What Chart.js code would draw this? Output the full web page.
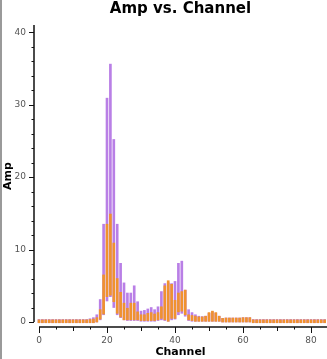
<!DOCTYPE html>
<html>
<head>
<meta charset="utf-8">
<script src="https://cdn.jsdelivr.net/npm/chart.js@4/dist/chart.umd.min.js"></script>
<style>
  html, body { margin: 0; padding: 0; background: #fff; }
  #wrap { position: relative; width: 327px; height: 359px; }
  #edge { position: absolute; left: 0; top: 0; width: 2px; height: 359px; background: #9a9a9a; }
</style>
</head>
<body>
<div id="wrap">
  <canvas id="chart" width="327" height="359"></canvas>
  <div id="edge"></div>
</div>
<script>
const titleText = 'Amp vs. Channel';
const xTicks = [0, 20, 40, 60, 80];
const yTicks = [0, 10, 20, 30, 40];

const channels = [
   0,  1,  2,  3,  4,  5,  6,  7,  8,  9, 10, 11, 12, 13, 14, 15, 16, 17, 18, 19, 20,
  21, 22, 23, 24, 25, 26, 27, 28, 29, 30, 31, 32, 33, 34, 35, 36, 37, 38, 39, 40, 41,
  42, 43, 44, 45, 46, 47, 48, 49, 50, 51, 52, 53, 54, 55, 56, 57, 58, 59, 60, 61, 62,
  63, 64, 65, 66, 67, 68, 69, 70, 71, 72, 73, 74, 75, 76, 77, 78, 79, 80, 81, 82, 83, 84
];
const purpleLo = [
  -0.1, -0.1, -0.1, -0.1, -0.1, -0.1, -0.1, -0.1, -0.1, -0.1, -0.1, -0.1, -0.1, -0.1, -0.1, -0.1, -0.1, 0.0, 0.3, 1.0, 2.9,
  3.5, 2.0, 1.0, 0.6, 0.3, 0.2, 0.2, 0.2, 0.2, 0.1, 0.1, 0.1, 0.1, 0.1, 0.2, 0.3, 0.2, 0.1, 0.3, 0.4, 1.0,
  1.2, 0.8, 0.2, 0.1, 0.1, 0.1, 0.1, 0.1, 0.1, 0.1, 0.1, 0.1, 0.0, 0.0, 0.0, 0.0, 0.0, 0.0, 0.0, 0.0, 0.0,
  -0.1, -0.1, -0.1, -0.1, -0.1, -0.1, -0.1, -0.1, -0.1, -0.1, -0.1, -0.1, -0.1, -0.1, -0.1, -0.1, -0.1, -0.1, -0.1, -0.1, -0.1, -0.1
];
const purpleHi = [
  0.35, 0.35, 0.35, 0.35, 0.35, 0.35, 0.35, 0.35, 0.35, 0.35, 0.35, 0.35, 0.35, 0.35, 0.35, 0.45, 0.6, 1.0, 3.1, 13.5, 30.9,
  35.6, 25.2, 13.5, 8.1, 5.4, 4.0, 4.0, 5.0, 2.8, 1.5, 1.6, 1.8, 2.0, 1.7, 2.1, 4.2, 5.3, 5.4, 5.3, 5.6, 8.1,
  8.4, 4.4, 1.7, 1.3, 1.0, 0.8, 0.75, 0.8, 1.2, 1.4, 1.2, 0.8, 0.5, 0.55, 0.55, 0.55, 0.55, 0.55, 0.6, 0.6, 0.6,
  0.35, 0.35, 0.35, 0.35, 0.35, 0.35, 0.35, 0.35, 0.35, 0.35, 0.35, 0.35, 0.35, 0.35, 0.35, 0.35, 0.35, 0.35, 0.35, 0.35, 0.35, 0.35
];
const orangeLo = [
  -0.1, -0.1, -0.1, -0.1, -0.1, -0.1, -0.1, -0.1, -0.1, -0.1, -0.1, -0.1, -0.1, -0.1, -0.1, -0.1, -0.1, 0.0, 0.4, 1.1, 3.5,
  3.7, 2.8, 1.2, 0.7, 0.3, 0.3, 0.3, 0.3, 0.3, 0.2, 0.2, 0.2, 0.2, 0.2, 0.3, 0.5, 0.3, 0.1, 0.5, 0.5, 1.4,
  1.5, 1.0, 0.3, 0.2, 0.1, 0.1, 0.1, 0.1, 0.1, 0.1, 0.1, 0.1, 0.0, 0.0, 0.0, 0.0, 0.0, 0.0, 0.0, 0.0, 0.0,
  -0.1, -0.1, -0.1, -0.1, -0.1, -0.1, -0.1, -0.1, -0.1, -0.1, -0.1, -0.1, -0.1, -0.1, -0.1, -0.1, -0.1, -0.1, -0.1, -0.1, -0.1, -0.1
];
const orangeHi = [
  0.3, 0.3, 0.3, 0.3, 0.3, 0.3, 0.3, 0.3, 0.3, 0.3, 0.3, 0.3, 0.3, 0.3, 0.3, 0.35, 0.4, 0.6, 1.7, 6.5, 13.5,
  14.9, 10.9, 6.0, 4.1, 2.6, 1.9, 2.6, 2.6, 1.4, 1.0, 1.0, 1.2, 1.3, 1.1, 1.3, 2.1, 5.0, 5.7, 5.2, 3.0, 4.0,
  4.2, 4.4, 1.0, 0.9, 0.8, 0.7, 0.7, 0.8, 1.3, 1.5, 1.3, 0.8, 0.5, 0.55, 0.55, 0.55, 0.55, 0.55, 0.6, 0.6, 0.6,
  0.3, 0.3, 0.3, 0.3, 0.3, 0.3, 0.3, 0.3, 0.3, 0.3, 0.3, 0.3, 0.3, 0.3, 0.3, 0.3, 0.3, 0.3, 0.3, 0.3, 0.3, 0.3
];

const PURPLE = '#b97fe6';
const ORANGE = '#f0922e';

function ranges(lo, hi) {
    return channels.map((c, i) => ({ x: c, y: [lo[i], hi[i]] }));
}

// axis lines + major/minor tick marks, drawn like the original (detached axes)
const axesPlugin = {
    id: 'axes',
    afterDraw(chart) {
        const { ctx, chartArea } = chart;
        const xs = chart.scales.x, ys = chart.scales.y;
        const x0 = chartArea.left, yb = chartArea.bottom;
        ctx.save();
        ctx.strokeStyle = '#111';
        ctx.lineWidth = 1.5;
        ctx.beginPath();
        ctx.moveTo(x0, ys.getPixelForValue(0));
        ctx.lineTo(x0, chartArea.top);
        ctx.moveTo(xs.getPixelForValue(0), yb);
        ctx.lineTo(chartArea.right, yb);
        ctx.stroke();
        ctx.lineWidth = 1;
        ctx.beginPath();
        for (let v = 0; v <= 40; v += 2) {
            const py = Math.round(ys.getPixelForValue(v)) + 0.5;
            const len = v % 10 === 0 ? 5 : 2.5;
            ctx.moveTo(x0 - len, py);
            ctx.lineTo(x0, py);
        }
        for (let v = 0; v <= 80; v += 5) {
            const px = Math.round(xs.getPixelForValue(v)) + 0.5;
            const len = v % 20 === 0 ? 6 : (v % 10 === 0 ? 4 : 2.5);
            ctx.moveTo(px, yb);
            ctx.lineTo(px, yb + len);
        }
        ctx.stroke();
        // title centred over the plot area
        ctx.fillStyle = '#000';
        ctx.font = 'bold 15px "DejaVu Sans"';
        ctx.textAlign = 'center';
        ctx.textBaseline = 'middle';
        ctx.fillText(titleText, (chartArea.left + chartArea.right) / 2, 9);
        ctx.restore();
    }
};

Chart.defaults.animation = false;
Chart.defaults.font.family = '"DejaVu Sans"';

const ctx = document.getElementById('chart').getContext('2d');
window.ampChart = new Chart(ctx, {
    type: 'bar',
    data: {
        datasets: [
            { label: 'orange', data: ranges(orangeLo, orangeHi), backgroundColor: ORANGE, barThickness: 2, grouped: false },
            { label: 'purple', data: ranges(purpleLo, purpleHi), backgroundColor: PURPLE, barThickness: 2, grouped: false },
        ]
    },
    options: {
        responsive: false,
        layout: { padding: { top: 25, left: 0, right: 0, bottom: 0 } },
        plugins: { legend: { display: false }, tooltip: { enabled: false }, title: { display: false } },
        scales: {
            x: {
                type: 'linear',
                offset: false,
                min: -1.47,
                max: 84.7,
                afterBuildTicks: s => { s.ticks = xTicks.map(v => ({ value: v })); },
                afterFit: s => { s.height = 32; },
                grid: { display: false, drawTicks: false },
                border: { display: false },
                ticks: { padding: 8, color: '#555', font: { size: 9 } },
                title: { display: true, text: 'Channel', color: '#000', font: { size: 11, weight: 'bold' }, padding: { top: 0, bottom: 0 } }
            },
            y: {
                min: -0.69,
                max: 41,
                afterBuildTicks: s => { s.ticks = yTicks.map(v => ({ value: v })); },
                afterFit: s => { s.width = 34; },
                grid: { display: false, drawTicks: false },
                border: { display: false },
                ticks: { padding: 8, color: '#555', font: { size: 9 } },
                title: { display: true, text: 'Amp', color: '#000', font: { size: 11, weight: 'bold' }, padding: { top: 2, bottom: 0 } }
            }
        }
    },
    plugins: [axesPlugin]
});
</script>
</body>
</html>
